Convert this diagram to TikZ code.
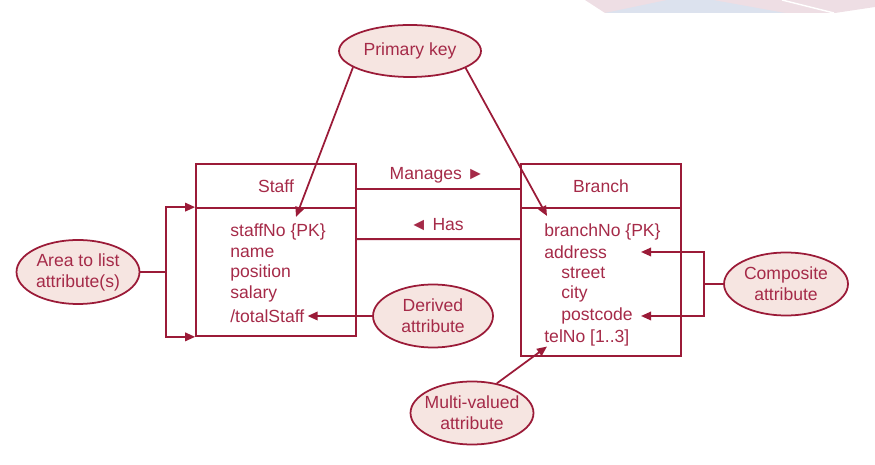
\documentclass[tikz,border=0pt]{standalone}
\usepackage{fontspec}
\setmainfont{Liberation Sans}
\usetikzlibrary{arrows.meta,shapes.geometric,calc}
\definecolor{erline}{RGB}{155,27,56}
\definecolor{ertext}{RGB}{165,42,72}
\definecolor{erfill}{RGB}{246,229,225}
\definecolor{bannerpink}{RGB}{238,222,228}
\definecolor{bannerblue}{RGB}{220,226,238}
\begin{document}
\begin{tikzpicture}[x=0.02cm, y=-0.02cm, font=\fontsize{10}{12}\selectfont,
        every node/.style={text=ertext},
        note/.style={ellipse, draw=erline, fill=erfill, line width=1pt, align=center, inner sep=0pt},
        box/.style={draw=erline, line width=1pt, minimum width=3.2cm},
        attr/.style={anchor=west, inner sep=0pt},
        link/.style={erline, line width=1pt},
        tip/.style={link, -{Triangle[length=0.2cm, width=0.17cm]}}]
                \useasboundingbox (0,0) rectangle (875,465);
                % banner at the top
                \fill[bannerpink] (585,0) -- (875,0) -- (875,7) -- (835,13) -- (605,13) -- cycle;
                \fill[bannerblue] (605,13) -- (667,0) -- (713,0) -- (785,13) -- cycle;
                \draw[white, line width=0.8pt] (782,0) -- (834,13);
                % the two classes
                \node[box, minimum height=0.88cm] (staffhead) at (276,186) {Staff};
                \node[box, minimum height=2.56cm] (staffbody) at (276,272) {};
                \node[box, minimum height=0.88cm] (branchhead) at (601,186) {Branch};
                \node[box, minimum height=2.96cm] (branchbody) at (601,282) {};
                \foreach \n/\x/\y/\t in {sno/230/232/{staffNo \{PK\}}, sname/230/253/name, spos/230/273/position,
                        ssal/230/294/salary, stotal/230/316/{/totalStaff},
                        bno/544/232/{branchNo \{PK\}}, baddr/544/252/address, bstreet/561/273/street,
                        bcity/561/294/city, bpost/561/316/postcode, btel/544/338/{telNo [1..3]}}{
                    \node[attr] (\n) at (\x, \y) {\t};
                }
                % associations
                \draw[link] ([yshift=-0.06cm]staffhead.east) -- ([yshift=-0.06cm]branchhead.west);
                \draw[link] ([yshift=-0.64cm]staffbody.north east) -- ([yshift=-0.64cm]branchbody.north west);
                \node (manages) at (437,175) {Manages ►};
                \node (has) at (437,225) {◄ Has};
                % notes
                \node[note, minimum width=2.84cm, minimum height=1.04cm] (pk) at (410,51) {Primary key};
                \node[note, minimum width=2.46cm, minimum height=1.28cm] (area) at (78,272) {Area to list\\attribute(s)};
                \node[note, minimum width=2.4cm, minimum height=1.26cm] (der) at (433,316) {Derived\\attribute};
                \node[note, minimum width=2.48cm, minimum height=1.26cm] (comp) at (786,284) {Composite\\attribute};
                \node[note, minimum width=2.46cm, minimum height=1.26cm, inner xsep=-2.5pt] (mv) at (472,413) {Multi-valued\\attribute};
                \coordinate (pkstaff) at (296,217);
                \coordinate (pkbranch) at (547,216);
                \coordinate (areaj) at (166,272);
                \coordinate (compj) at (704,284);
                \draw[tip] (pk.196) -- (pkstaff);
                \draw[tip] (pk.-17) -- (pkbranch);
                \draw[link] (area.east) -- (areaj);
                \draw[tip] (areaj) |- (staffbody.north west);
                \draw[tip] (areaj) |- (staffbody.south west);
                \draw[tip] (der.west) -- ([xshift=0.06cm]stotal.east);
                \draw[link] (comp.west) -- (compj);
                \draw[tip] (compj) |- ($(baddr.east -| bpost.east)+(8,0)$);
                \draw[tip] (compj) |- ($(bpost.east)+(8,0)$);
                \draw[tip] (mv.50) -- ([xshift=0.06cm]btel.south west);
\end{tikzpicture}
\end{document}
